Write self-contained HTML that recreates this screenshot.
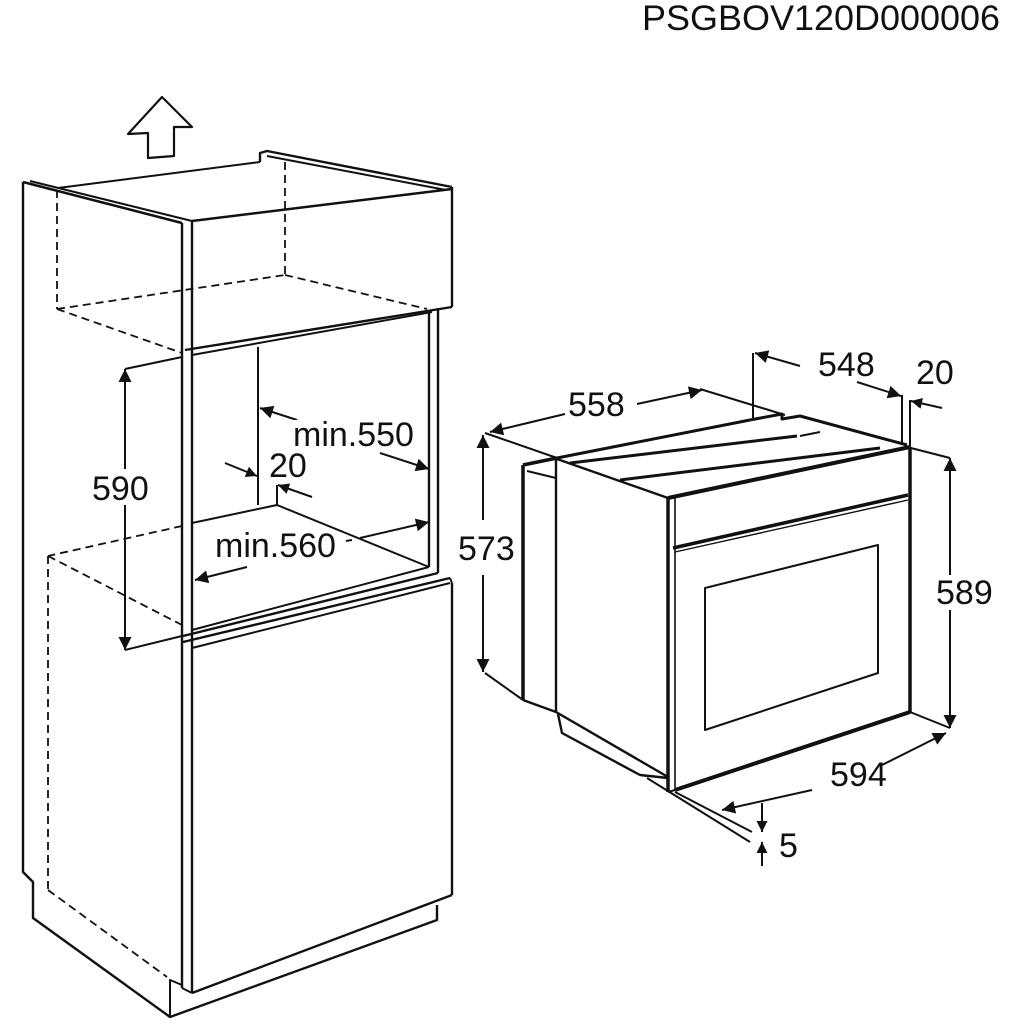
<!DOCTYPE html>
<html><head><meta charset="utf-8"><style>
html,body{margin:0;padding:0;background:#fff;}
svg{display:block;}
text{font-family:"Liberation Sans",Arial,sans-serif;fill:#111;}
</style></head><body>
<svg width="1024" height="1024" viewBox="0 0 1024 1024" xmlns="http://www.w3.org/2000/svg">
<defs>
<marker id="a" viewBox="0 0 10 10" refX="10" refY="5" markerWidth="14" markerHeight="11" markerUnits="userSpaceOnUse" orient="auto"><path d="M0,0 L10,5 L0,10 z" fill="#111"/></marker>
<marker id="b" viewBox="0 0 10 10" refX="10" refY="5" markerWidth="20" markerHeight="13" markerUnits="userSpaceOnUse" orient="auto"><path d="M0,0 L10,5 L0,10 z" fill="#111"/></marker>
</defs>
<text x="1000" y="30" font-size="35" text-anchor="end" textLength="358" lengthAdjust="spacingAndGlyphs">PSGBOV120D000006</text>

<g fill="none" stroke="#111" stroke-width="2" stroke-linejoin="round">
<polygon points="162,97 192,127 174,127 174,156 148,158 148,133 128,134" stroke-width="2.2"/>

<polyline points="23,182 23,872 33,882 33,918 170,1017 437,920 437,905" stroke-width="2.4"/>
<line x1="23" y1="182" x2="182" y2="223" stroke-width="2.6"/>
<line x1="30" y1="181" x2="192" y2="221"/>
<line x1="182" y1="223" x2="182" y2="988" stroke-width="2.4"/>
<line x1="192" y1="221" x2="192" y2="993" stroke-width="2.4"/>
<polyline points="170,1017 170,980 182,985"/>
<line x1="182" y1="988" x2="192" y2="993"/>

<line x1="58" y1="188" x2="260" y2="162"/>
<polyline points="260,162 260,153 267,151 452,187" stroke-width="2.4"/>
<line x1="267" y1="156" x2="446" y2="190"/>
<line x1="192" y1="221" x2="452" y2="189" stroke-width="2.4"/>
<line x1="452" y1="187" x2="452" y2="307" stroke-width="2.4"/>
<line x1="185" y1="350" x2="452" y2="307" stroke-width="2.4"/>
<line x1="192" y1="355" x2="432" y2="312"/>

<g stroke-dasharray="8,5" stroke-width="1.8">
<line x1="57" y1="190" x2="57" y2="309"/>
<line x1="57" y1="309" x2="285" y2="275"/>
<line x1="57" y1="309" x2="182" y2="353"/>
<line x1="285" y1="162" x2="285" y2="275"/>
<line x1="285" y1="275" x2="427" y2="309"/>
<line x1="182" y1="526" x2="48" y2="556"/>
<line x1="48" y1="556" x2="182" y2="625"/>
<line x1="48" y1="556" x2="48" y2="890"/>
<line x1="48" y1="890" x2="167" y2="977"/>
</g>

<line x1="258" y1="347" x2="258" y2="505"/>
<polyline points="192,523 277,505 429,567"/>
<line x1="277" y1="485" x2="277" y2="505"/>
<line x1="429" y1="312" x2="429" y2="567" stroke-width="2.4"/>
<line x1="438" y1="308" x2="438" y2="573" stroke-width="2.4"/>
<line x1="192" y1="630" x2="429" y2="567"/>
<line x1="183" y1="636" x2="438" y2="573" stroke-width="2.4"/>
<line x1="183" y1="642" x2="450" y2="578" stroke-width="2.4"/>
<line x1="192" y1="648" x2="450" y2="583"/>
<line x1="450" y1="578" x2="452" y2="583"/>

<line x1="452" y1="583" x2="452" y2="895" stroke-width="2.4"/>
<line x1="192" y1="993" x2="452" y2="895" stroke-width="2.4"/>

<line x1="125" y1="369" x2="182" y2="357"/>
<line x1="125" y1="650" x2="182" y2="636"/>
<line x1="125" y1="469" x2="125" y2="369" marker-end="url(#b)"/>
<line x1="125" y1="505" x2="125" y2="650" marker-end="url(#b)"/>
</g>

<g stroke="#111" stroke-width="2" fill="none">
<line x1="297" y1="420" x2="260" y2="408" marker-end="url(#b)"/>
<line x1="380" y1="453" x2="429" y2="469" marker-end="url(#b)"/>
<line x1="225" y1="463" x2="257" y2="476" marker-end="url(#a)"/>
<line x1="312" y1="497" x2="278" y2="485" marker-end="url(#a)"/>
<line x1="360" y1="538" x2="429" y2="522" marker-end="url(#b)"/>
<line x1="352" y1="540" x2="346" y2="541"/>
<line x1="247" y1="567" x2="195" y2="580" marker-end="url(#b)"/>
</g>
<text x="92" y="500" font-size="34">590</text>
<rect x="291" y="420" width="130" height="30" fill="#fff"/>
<text x="293" y="446" font-size="34">min.550</text>
<text x="269" y="477" font-size="34">20</text>
<text x="215" y="557" font-size="34">min.560</text>

<g fill="none" stroke="#111" stroke-width="2" stroke-linejoin="round">
<line x1="523" y1="465" x2="523" y2="700" stroke-width="3.5"/>
<line x1="556" y1="457" x2="556" y2="712" stroke-width="2.4"/>
<line x1="523" y1="465" x2="557" y2="458" stroke-width="3.5"/>
<line x1="527" y1="471" x2="556" y2="478"/>
<line x1="523" y1="700" x2="556" y2="712" stroke-width="2.4"/>
<line x1="557" y1="459" x2="668" y2="498" stroke-width="2.4"/>
<line x1="556" y1="712" x2="668" y2="777" stroke-width="2.4"/>
<polyline points="558,714 562,733 640,775 668,778" stroke-width="2.4"/>
<line x1="557" y1="458" x2="750" y2="420" stroke-width="3"/>
<polyline points="750,420 782,414 782,419 800,416 907,445" stroke-width="3"/>
<line x1="570" y1="463" x2="797" y2="436" stroke-width="3"/>
<line x1="620" y1="480" x2="880" y2="448" stroke-width="3"/>
<line x1="668" y1="498" x2="910" y2="447" stroke-width="4"/>
<line x1="800" y1="436" x2="820" y2="432"/>
<line x1="668" y1="498" x2="668" y2="792" stroke-width="3.5"/>
<line x1="675" y1="497" x2="675" y2="790" stroke-width="1.6"/>
<line x1="910" y1="447" x2="910" y2="712" stroke-width="3.5"/>
<line x1="675" y1="790" x2="910" y2="712" stroke-width="4"/>
<line x1="668" y1="792" x2="675" y2="790" stroke-width="2"/>
<line x1="673" y1="548" x2="908" y2="495" stroke-width="3.5"/>
<line x1="675" y1="552" x2="908" y2="500" stroke-width="1.4"/>
<polygon points="705,588 878,545 878,673 705,730" stroke-width="2"/>

<line x1="485" y1="433" x2="557" y2="458"/>
<line x1="485" y1="673" x2="523" y2="700"/>
<line x1="700" y1="389" x2="785" y2="415"/>
<line x1="753" y1="353" x2="753" y2="420"/>
<line x1="902" y1="395" x2="902" y2="445"/>
<line x1="910" y1="400" x2="910" y2="447"/>
<line x1="907" y1="447" x2="950" y2="458"/>
<line x1="910" y1="712" x2="950" y2="728"/>
<line x1="647" y1="778" x2="750" y2="842"/>
<line x1="675" y1="792" x2="752" y2="832"/>
</g>
<g stroke="#111" stroke-width="2" fill="none">
<line x1="483" y1="520" x2="483" y2="435" marker-end="url(#b)"/>
<line x1="483" y1="575" x2="483" y2="672" marker-end="url(#b)"/>
<line x1="565" y1="414" x2="490" y2="432" marker-end="url(#b)"/>
<line x1="637" y1="404" x2="702" y2="390" marker-end="url(#b)"/>
<line x1="800" y1="366" x2="755" y2="353" marker-end="url(#b)"/>
<line x1="857" y1="382" x2="901" y2="396" marker-end="url(#b)"/>
<line x1="942" y1="408" x2="911" y2="401" marker-end="url(#a)"/>
<line x1="950" y1="575" x2="950" y2="458" marker-end="url(#b)"/>
<line x1="950" y1="610" x2="950" y2="728" marker-end="url(#b)"/>
<line x1="880" y1="766" x2="946" y2="733" marker-end="url(#b)"/>
<line x1="812" y1="790" x2="722" y2="810" marker-end="url(#b)"/>
<line x1="762" y1="803" x2="762" y2="832" marker-end="url(#a)"/>
<line x1="762" y1="866" x2="762" y2="842" marker-end="url(#a)"/>
</g>
<text x="458" y="560" font-size="34">573</text>
<text x="568" y="416" font-size="34">558</text>
<text x="818" y="376" font-size="34">548</text>
<text x="916" y="384" font-size="34">20</text>
<text x="936" y="604" font-size="34">589</text>
<text x="830" y="786" font-size="34">594</text>
<text x="779" y="857" font-size="34">5</text>
</svg>
</body></html>
